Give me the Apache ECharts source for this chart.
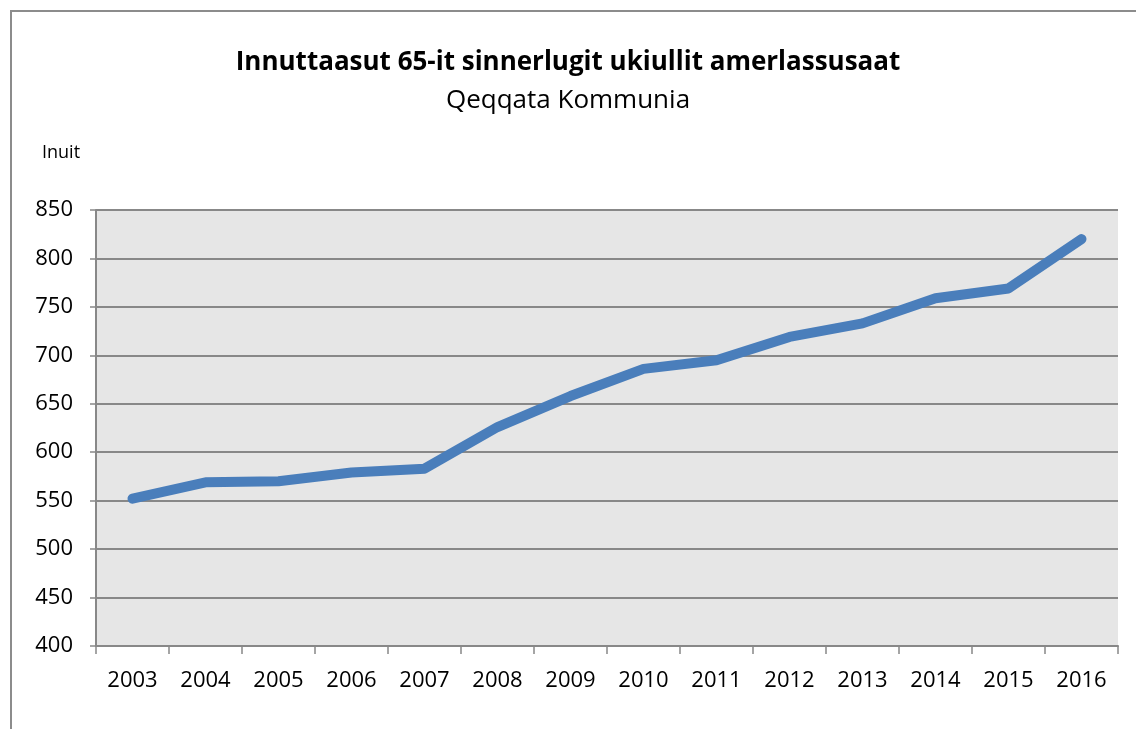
<!DOCTYPE html>
<html>
<head>
<meta charset="utf-8">
<script src="https://cdn.jsdelivr.net/npm/echarts@6/dist/echarts.min.js"></script>
<style>
  html, body { margin: 0; padding: 0; background: #fff; }
  #frame { position: absolute; left: 10px; top: 10px; width: 1140px; height: 730px; border: 2px solid #8c8c8c; box-sizing: border-box; }
  #chart { position: absolute; left: 0; top: 0; width: 1136px; height: 729px; }
</style>
</head>
<body>
<div id="frame"></div>
<div id="chart"></div>
<script>
const years = ['2003', '2004', '2005', '2006', '2007', '2008', '2009', '2010', '2011', '2012', '2013', '2014', '2015', '2016']
const persons = [552, 569, 570, 579, 583, 626, 658, 686, 695, 719, 733, 759, 769, 820]
const yTicks = [400, 850, 50] // min, max, step

const font = '"Open Sans", "DejaVu Sans", sans-serif'
const chart = echarts.init(document.getElementById('chart'))

chart.setOption({
  animation: false,
  title: {
    text: 'Innuttaasut 65-it sinnerlugit ukiullit amerlassusaat',
    subtext: 'Qeqqata Kommunia',
    left: 'center',
    top: 45,
    itemGap: 12,
    textStyle: { fontFamily: font, fontSize: 26, fontWeight: 'bold', color: '#000' },
    subtextStyle: { fontFamily: font, fontSize: 26, color: '#000' }
  },
  grid: {
    left: 96,
    right: 18,
    top: 210,
    bottom: 83,
    show: true,
    backgroundColor: '#e6e6e6',
    borderWidth: 0
  },
  xAxis: {
    type: 'category',
    data: years,
    boundaryGap: true,
    axisLine: { lineStyle: { color: '#888', width: 2 } },
    axisTick: { show: true, alignWithLabel: false, length: 8, lineStyle: { color: '#888', width: 1.5 } },
    axisLabel: { fontFamily: font, fontSize: 22, color: '#000', margin: 24 }
  },
  yAxis: {
    type: 'value',
    name: 'Inuit',
    nameLocation: 'end',
    nameGap: 48,
    nameTextStyle: { fontFamily: font, fontSize: 18, color: '#000', align: 'left', padding: [0, 0, 0, -54] },
    min: yTicks[0],
    max: yTicks[1],
    interval: yTicks[2],
    axisLine: { show: true, lineStyle: { color: '#888', width: 2 } },
    axisTick: { show: true, length: 6, lineStyle: { color: '#888', width: 1.5 } },
    axisLabel: { fontFamily: font, fontSize: 22, color: '#000', margin: 23 },
    splitLine: { lineStyle: { color: '#888', width: 2 } }
  },
  series: [
    {
      name: 'Inuit',
      type: 'line',
      data: persons,
      symbol: 'none',
      lineStyle: { color: '#4a7ebb', width: 10, cap: 'round', join: 'round' }
    }
  ]
})
</script>
</body>
</html>
